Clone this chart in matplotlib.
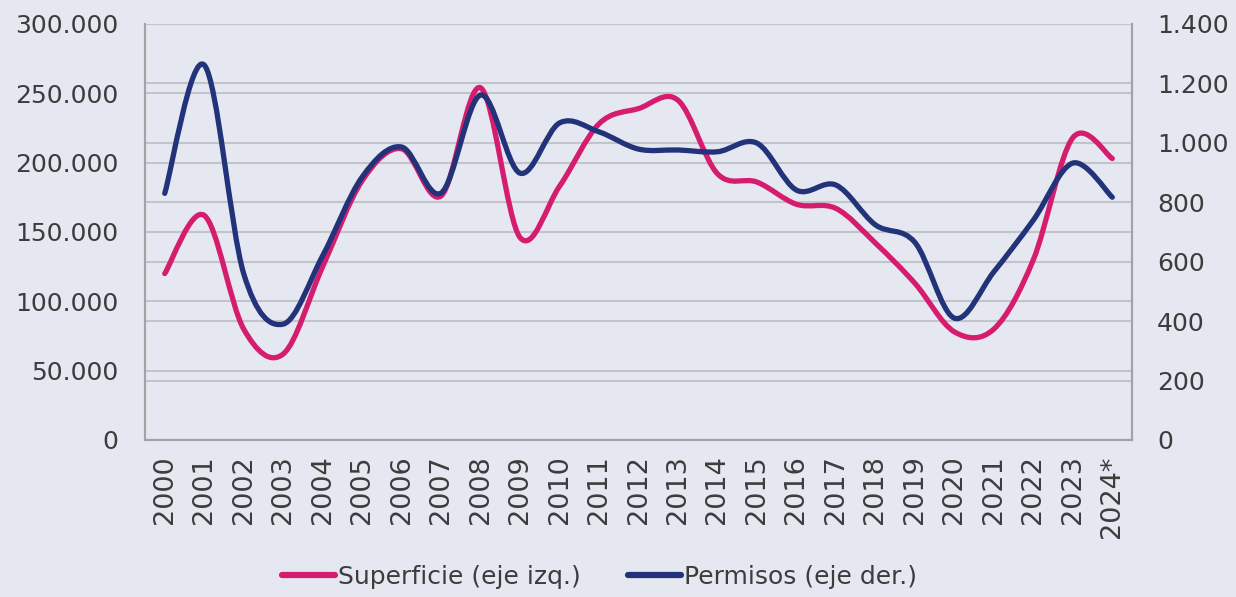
import matplotlib.pyplot as plt
from matplotlib.path import Path
from matplotlib.patches import PathPatch
from matplotlib.lines import Line2D

# Data
years = ['2000', '2001', '2002', '2003', '2004', '2005', '2006', '2007', '2008',
         '2009', '2010', '2011', '2012', '2013', '2014', '2015', '2016', '2017',
         '2018', '2019', '2020', '2021', '2022', '2023', '2024*']
superficie = [120000, 162000, 80000, 62000, 125000, 187000, 210000, 176000, 254000,
              146000, 183000, 228000, 239000, 245000, 192000, 186000, 170000, 167000,
              142000, 113000, 78000, 80000, 130000, 218000, 203000]
permisos = [830, 1262, 560, 390, 620, 885, 986, 831, 1161,
            898, 1067, 1037, 979, 976, 970, 999, 841, 858,
            724, 665, 410, 566, 740, 932, 817]

PINK = '#D61C6F'
NAVY = '#22337A'
BG = '#E5E8F0'
GRID = '#C3C4C9'
SPINE = '#A3A3A6'
TXT = '#3C3C3C'


def smooth_path(xs, ys):
    # Excel-style smoothed line: cubic Bezier segments through every point
    pts = list(zip(xs, ys))
    n = len(pts)
    verts = [pts[0]]
    codes = [Path.MOVETO]
    for i in range(n - 1):
        p0 = pts[max(i - 1, 0)]
        p1 = pts[i]
        p2 = pts[i + 1]
        p3 = pts[min(i + 2, n - 1)]
        c1 = (p1[0] + (p2[0] - p0[0]) / 6, p1[1] + (p2[1] - p0[1]) / 6)
        c2 = (p2[0] - (p3[0] - p1[0]) / 6, p2[1] - (p3[1] - p1[1]) / 6)
        verts += [c1, c2, p2]
        codes += [Path.CURVE4] * 3
    return Path(verts, codes)


x = list(range(len(years)))

fig = plt.figure(figsize=(12.36, 5.97), dpi=100, facecolor=BG)
ax = fig.add_axes([0.1173, 0.263, 0.7986, 0.6968])
ax.set_facecolor(BG)
ax2 = ax.twinx()
ax_p = ax.twinx()   # pink curve, left scale
ax_b = ax.twinx()   # navy curve, right scale (on top)

left_ticks = [0, 50000, 100000, 150000, 200000, 250000, 300000]
right_ticks = [0, 200, 400, 600, 800, 1000, 1200, 1400]

for a in (ax, ax_p):
    a.set_ylim(0, 300000)
for a in (ax2, ax_b):
    a.set_ylim(0, 1400)
for a in (ax, ax2, ax_p, ax_b):
    a.set_xlim(-0.5, len(years) - 0.5)

ax.set_yticks(left_ticks)
ax.set_yticklabels([f'{v:,}'.replace(',', '.') for v in left_ticks])
ax2.set_yticks(right_ticks)
ax2.set_yticklabels([f'{v:,}'.replace(',', '.') for v in right_ticks])
ax.set_xticks(x)
ax.set_xticklabels(years, rotation=90)

ax.grid(axis='y', color=GRID, linewidth=1.5)
ax2.grid(axis='y', color=GRID, linewidth=1.5)
ax.grid(axis='x', visible=False)

ax.tick_params(axis='y', length=0, pad=19, labelsize=18, labelcolor=TXT)
ax.tick_params(axis='x', length=0, pad=11, labelsize=19.5, labelcolor=TXT)
ax2.tick_params(axis='y', length=0, pad=18, labelsize=18, labelcolor=TXT)

for a in (ax, ax2):
    a.spines['top'].set_visible(False)
    for s in ('left', 'right', 'bottom'):
        a.spines[s].set_color(SPINE)
        a.spines[s].set_linewidth(1.5)

for a in (ax_p, ax_b):
    a.axis('off')

ax_p.add_patch(PathPatch(smooth_path(x, superficie), facecolor='none',
                         edgecolor=PINK, linewidth=3.8, capstyle='round',
                         joinstyle='round'))
ax_b.add_patch(PathPatch(smooth_path(x, permisos), facecolor='none',
                         edgecolor=NAVY, linewidth=3.8, capstyle='round',
                         joinstyle='round'))

handles = [Line2D([], [], color=PINK, linewidth=4.5, solid_capstyle='round'),
           Line2D([], [], color=NAVY, linewidth=4.5, solid_capstyle='round')]
fig.legend(handles, ['Superficie (eje izq.)', 'Permisos (eje der.)'],
           loc='center', bbox_to_anchor=(0.485, 0.034), ncol=2, frameon=False,
           handlelength=2.1, handletextpad=0.12, columnspacing=1.9,
           prop={'family': 'DejaVu Sans', 'size': 18}, labelcolor=TXT)

fig.savefig('out.png', dpi=100, facecolor=BG)
